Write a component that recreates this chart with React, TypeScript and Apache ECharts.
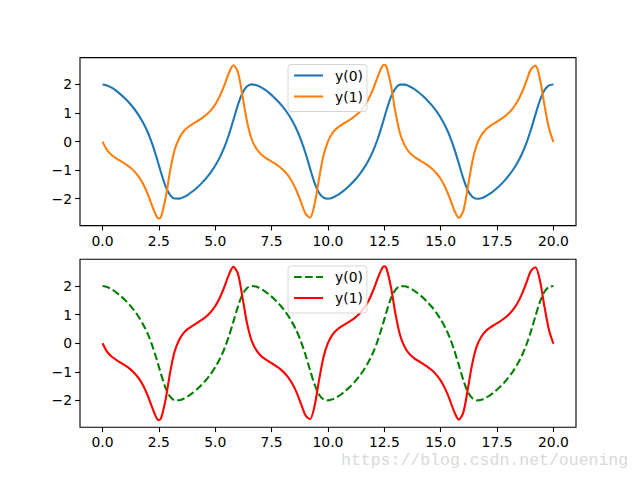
import React, { useEffect, useRef } from "react";
import * as echarts from "echarts";

const T = [
  0, 0.2, 0.4, 0.6, 0.8, 1.0, 1.2, 1.4, 1.6, 1.8, 2.0, 2.2, 2.4, 2.5, 2.6, 2.8, 3.0, 3.2, 3.4, 3.6,
  3.8, 4.0, 4.2, 4.4, 4.6, 4.8, 5.0, 5.2, 5.4, 5.6, 5.8, 6.0, 6.2, 6.4, 6.6, 6.8, 7.0, 7.2, 7.4, 7.6,
  7.8, 8.0, 8.2, 8.4, 8.6, 8.8, 9.0, 9.2, 9.4, 9.6, 9.8, 10.0, 10.2, 10.4, 10.6, 10.8, 11.0, 11.2, 11.4, 11.6,
  11.8, 12.0, 12.2, 12.4, 12.5, 12.6, 12.8, 13.0, 13.2, 13.4, 13.6, 13.8, 14.0, 14.2, 14.4, 14.6, 14.8, 15.0, 15.2, 15.4,
  15.6, 15.8, 16.0, 16.2, 16.4, 16.6, 16.8, 17.0, 17.2, 17.4, 17.6, 17.8, 18.0, 18.2, 18.4, 18.6, 18.8, 19.0, 19.2, 19.4,
  19.6, 19.8, 20.0,
];

const Y0 = [
  2.0, 1.966, 1.887, 1.781, 1.654, 1.508, 1.342, 1.15, 0.926, 0.657, 0.335, -0.071, -0.563, -0.831, -1.1, -1.573, -1.871, -1.992, -1.995, -1.941,
  -1.853, -1.739, -1.606, -1.453, -1.279, -1.077, -0.839, -0.551, -0.203, 0.232, 0.746, 1.274, 1.692, 1.925, 2.002, 1.981, 1.914, 1.816, 1.696, 1.556,
  1.396, 1.213, 1.0, 0.746, 0.441, 0.064, -0.401, -0.93, -1.434, -1.793, -1.965, -2.0, -1.965, -1.885, -1.778, -1.651, -1.504, -1.337, -1.145, -0.92,
  -0.649, -0.325, 0.083, 0.576, 0.844, 1.113, 1.582, 1.875, 1.993, 1.995, 1.94, 1.85, 1.736, 1.603, 1.449, 1.275, 1.072, 0.832, 0.543, 0.194,
  -0.244, -0.759, -1.286, -1.701, -1.929, -2.002, -1.98, -1.912, -1.814, -1.692, -1.552, -1.392, -1.208, -0.994, -0.739, -0.432, -0.053, 0.414, 0.943, 1.445,
  1.799, 1.968, 2.0,
];

const Y1 = [
  0.0, -0.297, -0.468, -0.584, -0.681, -0.778, -0.891, -1.034, -1.223, -1.481, -1.826, -2.249, -2.623, -2.693, -2.615, -1.958, -1.011, -0.284, 0.12, 0.363,
  0.51, 0.618, 0.713, 0.815, 0.937, 1.094, 1.304, 1.591, 1.966, 2.392, 2.671, 2.442, 1.632, 0.734, 0.117, -0.217, -0.421, -0.55, -0.651, -0.746,
  -0.854, -0.986, -1.159, -1.393, -1.71, -2.111, -2.519, -2.664, -2.213, -1.308, -0.488, 0.01, 0.302, 0.471, 0.586, 0.683, 0.781, 0.894, 1.038, 1.229,
  1.489, 1.836, 2.259, 2.627, 2.692, 2.602, 1.934, 0.991, 0.272, -0.131, -0.367, -0.513, -0.62, -0.716, -0.818, -0.94, -1.099, -1.31, -1.599, -1.976,
  -2.402, -2.674, -2.429, -1.608, -0.714, -0.105, 0.223, 0.424, 0.553, 0.653, 0.749, 0.857, 0.99, 1.164, 1.4, 1.719, 2.122, 2.527, 2.66, 2.193,
  1.284, 0.472, -0.02,
];

const X_TICKS = [0, 2.5, 5, 7.5, 10, 12.5, 15, 17.5, 20];
const Y_TICKS = [-2, -1, 0, 1, 2];
const LABELS = ["y(0)", "y(1)"];
const WATERMARK = "https://blog.csdn.net/ouening";

const FONT = "DejaVu Sans";
const FS = 13.9;
const DASH = [7.7, 3.3];

export default function App() {
  const ref = useRef<HTMLDivElement>(null);
  useEffect(() => {
    if (!ref.current) return;
    const chart = echarts.init(ref.current, undefined, { renderer: "svg" });
    const pairs = (ys: number[]) => T.map((t, i) => [t, ys[i]]);
    const gridTops = [57.6, 259.2];
    const xAxis = gridTops.map((_, i) => ({
      type: "value",
      gridIndex: i,
      min: -1,
      max: 21,
      position: "bottom",
      axisLine: { show: false, onZero: false },
      splitLine: { show: false },
      axisTick: { show: true, length: 4.9, lineStyle: { color: "#000", width: 1.1 }, customValues: X_TICKS },
      axisLabel: {
        customValues: X_TICKS,
        formatter: (v: number) => v.toFixed(1),
        color: "#000",
        fontSize: FS,
        fontFamily: FONT,
        margin: 8,
      },
    }));
    const yAxis = gridTops.map((_, i) => ({
      type: "value",
      gridIndex: i,
      min: -2.94,
      max: 2.94,
      position: "left",
      axisLine: { show: false, onZero: false },
      splitLine: { show: false },
      axisTick: { show: true, length: 4.9, lineStyle: { color: "#000", width: 1.1 }, customValues: Y_TICKS },
      axisLabel: {
        customValues: Y_TICKS,
        formatter: (v: number) => (v < 0 ? "\u2212" + Math.abs(v) : String(v)),
        color: "#000",
        fontSize: FS,
        fontFamily: FONT,
        margin: 8,
      },
    }));
    const lineSeries = (name: string, ys: number[], idx: number, color: string, type: any) => ({
      type: "line",
      name,
      xAxisIndex: idx,
      yAxisIndex: idx,
      data: pairs(ys),
      symbol: "none",
      smooth: 0.3,
      lineStyle: { color, width: 2.1, type },
      itemStyle: { color },
      z: 2,
    });
    const legendBase = {
      orient: "vertical",
      left: 288,
      itemWidth: 29,
      itemHeight: 14,
      itemGap: 7,
      padding: [4, 4, 8, 5],
      borderColor: "#d6d6d6",
      borderWidth: 1,
      borderRadius: 3,
      backgroundColor: "rgba(255,255,255,0.8)",
      selectedMode: false,
      itemStyle: { opacity: 0 },
      textStyle: { color: "#000", fontSize: FS, fontFamily: FONT, padding: [0, 0, 0, 7] },
      z: 10,
    };
    chart.setOption({
      animation: false,
      grid: gridTops.map((top) => ({
        left: 80,
        top,
        width: 496,
        height: 168,
        show: true,
        borderColor: "#000",
        borderWidth: 1.1,
        backgroundColor: "transparent",
      })),
      xAxis,
      yAxis,
      legend: [
        {
          ...legendBase,
          top: 64.5,
          data: [
            { name: LABELS[0], itemStyle: { opacity: 0 }, lineStyle: { color: "#1f77b4", width: 2.1, type: "solid" } },
            { name: LABELS[1], itemStyle: { opacity: 0 }, lineStyle: { color: "#ff7f0e", width: 2.1, type: "solid" } },
          ],
        },
        {
          ...legendBase,
          top: 266,
          data: [
            { name: LABELS[0] + " ", itemStyle: { opacity: 0 }, lineStyle: { color: "#008000", width: 2.1, type: DASH } },
            { name: LABELS[1] + " ", itemStyle: { opacity: 0 }, lineStyle: { color: "#ff0000", width: 2.1, type: "solid" } },
          ],
          formatter: (n: string) => n.trim(),
        },
      ],
      series: [
        lineSeries(LABELS[0], Y0, 0, "#1f77b4", "solid"),
        lineSeries(LABELS[1], Y1, 0, "#ff7f0e", "solid"),
        lineSeries(LABELS[0] + " ", Y0, 1, "#008000", DASH),
        lineSeries(LABELS[1] + " ", Y1, 1, "#ff0000", "solid"),
      ],
      graphic: [
        {
          type: "text",
          left: 341,
          top: 452,
          silent: true,
          style: {
            text: WATERMARK,
            fontSize: 16.5,
            fontFamily: "Liberation Mono",
            fill: "#d9d9d9",
          },
          z: 20,
        },
      ],
    });
    return () => chart.dispose();
  }, []);
  return (
    <div
      ref={ref}
      style={{ position: "absolute", left: 0, top: 0, width: 640, height: 480, background: "#fff" }}
    />
  );
}
